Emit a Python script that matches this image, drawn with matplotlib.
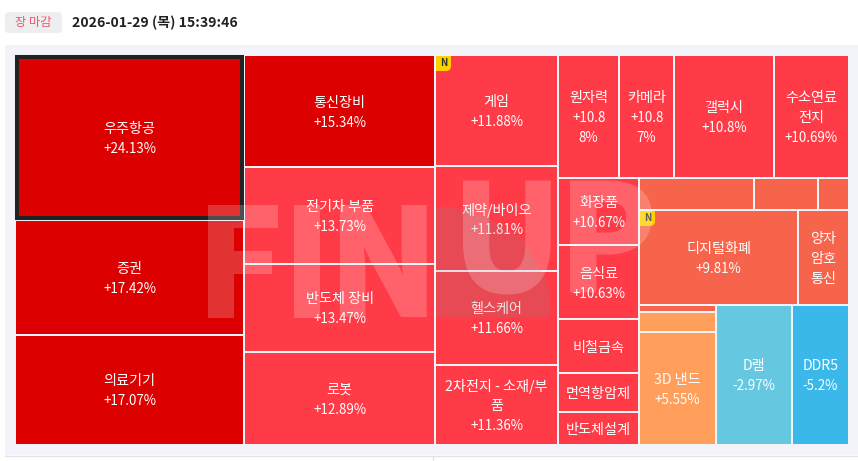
import matplotlib
matplotlib.use("Agg")
import matplotlib.pyplot as plt
import matplotlib.patheffects as pe
from matplotlib.font_manager import FontProperties
from matplotlib.patches import Rectangle, FancyBboxPatch, Polygon, PathPatch
from matplotlib.path import Path
from matplotlib.textpath import TextPath

plt.rcParams['font.family'] = ['Noto Sans CJK KR', 'DejaVu Sans']

# tile names, change, area (treemap size) in order of the layout
names = ['우주항공', '증권', '의료기기',
         '통신장비', '전기차 부품', '반도체 장비', '로봇',
         '게임', '제약/바이오', '헬스케어', '2차전지 - 소재/부\n품',
         '원자력', '카메라', '갤럭시', '수소연료\n전지',
         '화장품', '음식료', '비철금속', '면역항암제', '반도체설계',
         '', '', '',
         '디지털화폐', '양자\n암호\n통신',
         '', '', '3D 낸드', 'D램', 'DDR5']
changes = ['+24.13%', '+17.42%', '+17.07%',
           '+15.34%', '+13.73%', '+13.47%', '+12.89%',
           '+11.88%', '+11.81%', '+11.66%', '+11.36%',
           '+10.8\n8%', '+10.8\n7%', '+10.8%', '+10.69%',
           '+10.67%', '+10.63%', '', '', '',
           '', '', '',
           '+9.81%', '',
           '', '', '+5.55%', '-2.97%', '-5.2%']
areas = [37785, 26266, 25144,
         21335, 18527, 16808, 17725,
         13653, 12878, 11562, 9815,
         7485, 6749, 12270, 9141,
         5451, 5994, 4374, 3159, 2633,
         3715, 2067, 985,
         15105, 4798,
         539, 1540, 8663, 10602, 7882]
colors = (['#DC0000'] * 4 + ['#FF3B47'] * 16 + ['#F6644B'] * 6
          + ['#FF9F5B', '#FF9F5B', '#65C8E0', '#3BB8EA'])

# nesting of the tiles, direction alternates on each level
tree = [[0, 1, 2],
        [3, 4, 5, 6],
        [7, 8, 9, 10],
        [[11, 12, 13, 14],
         [[15, 16, 17, 18, 19],
          [[20, 21, 22],
           [23, 24],
           [[25, 26, 27], 28, 29]]]]]
badges = [7, 23]


def total(node):
    if isinstance(node, int):
        return areas[node]
    return sum(total(n) for n in node)


def layout(node, x, y, w, h, horiz, out):
    if isinstance(node, int):
        out[node] = (x, y, w, h)
        return
    s = total(node)
    for n in node:
        f = total(n) / s
        if horiz:
            layout(n, x, y, w * f, h, not horiz, out)
            x += w * f
        else:
            layout(n, x, y, w, h * f, not horiz, out)
            y += h * f


def fade(im, dpi):
    # whole watermark gets one alpha, stroke and fill do not add up
    im = im.copy()
    im[..., 3] *= 0.2
    return im, 0, 0


fig = plt.figure(figsize=(8.58, 4.61), dpi=100)
ax = fig.add_axes([0, 0, 1, 1])
ax.set_xlim(0, 858)
ax.set_ylim(461, 0)
ax.axis('off')

# header
ax.add_patch(FancyBboxPatch((7, 14), 53, 17, boxstyle='round,pad=0,rounding_size=2',
                            fc='#EEEEF0', ec='#EEEEF0', lw=3))
ax.text(33.5, 22.5, '장 마감', color='#F0566A', fontsize=8.8, ha='center', va='center')
ax.text(72, 23, '2026-01-29 (목) 15:39:46', color='#222222', fontsize=10.1,
        fontweight='bold', ha='left', va='center')

# panel
ax.add_patch(Rectangle((5, 45), 853, 410, fc='#F3F4F9', ec='none'))
ax.plot([5, 858], [455.5, 455.5], color='#E2E4EA', lw=1)
ax.plot([432.5, 432.5], [456, 461], color='#E2E4EA', lw=1)

# treemap
boxes = {}
layout(tree, 16, 56, 833.5, 389.5, True, boxes)
gap = 1.7
for i, name in enumerate(names):
    x, y, w, h = boxes[i]
    ax.add_patch(Rectangle((x, y), w - gap, h - gap, fc=colors[i], ec='none'))
    lines = [t for t in (name + '\n' + changes[i]).split('\n') if t]
    cx = x + (w - gap) / 2
    cy = y + (h - gap) / 2
    for k, t in enumerate(lines):
        num = t[0] in '+-' or t[0] in '78'
        ax.text(cx, cy + 1.5 + (k - (len(lines) - 1) / 2) * 20, t, color='white',
                fontsize=9.6 if num else 10.2, fontweight='medium',
                ha='center', va='center', zorder=3)

# selected tile
x, y, w, h = boxes[0]
ax.add_patch(Rectangle((x + 1, y + 1), w - 4, h - 4, fc='none', ec='#222222', lw=2.9, zorder=2))

# new badges
for i in badges:
    x, y, w, h = boxes[i]
    verts = [(x, y), (x + 15, y), (x + 15, y + 10), (x + 15, y + 15), (x + 10, y + 15), (x, y + 15), (x, y)]
    codes = [Path.MOVETO, Path.LINETO, Path.LINETO, Path.CURVE3, Path.CURVE3, Path.LINETO, Path.CLOSEPOLY]
    ax.add_patch(PathPatch(Path(verts, codes), fc='#FFD000', ec='none', zorder=4))
    ax.text(x + 7.5, y + 7.2, 'N', color='#333333', fontsize=7, fontweight='bold',
            ha='center', va='center', zorder=5)

# watermark, one text per letter so the left edges line up
ax.add_patch(Polygon([(436, 207), (453, 207), (487, 217), (522, 238), (548, 283), (550, 317), (436, 317)],
                     fc='#8A8A8A', ec='none', alpha=0.2, zorder=5))
wm_size = 104
wm_font = FontProperties(family='Noto Sans CJK KR', weight='bold')
for s, xp, yp in [('F', 209.5, 314.5), ('I', 295.5, 314.5), ('N', 342.5, 314.5),
                  ('U', 465.5, 290), ('P', 572.5, 290)]:
    ink = TextPath((0, 0), s, size=wm_size * 100 / 72, prop=wm_font).get_extents().x0
    t = ax.text(xp - ink, yp, s, color='white', fontsize=wm_size, fontweight='bold',
                ha='left', va='baseline', zorder=6)
    t.set_path_effects([pe.Stroke(linewidth=3.6, foreground='white', joinstyle='miter'), pe.Normal()])
    t.set_agg_filter(fade)

fig.savefig('out.png', dpi=100)
